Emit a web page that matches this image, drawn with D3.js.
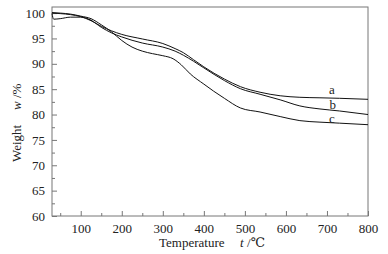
<!DOCTYPE html>
<html>
<head>
<meta charset="utf-8">
<script src="https://cdnjs.cloudflare.com/ajax/libs/d3/7.8.5/d3.min.js"></script>
<style>
  body { margin: 0; background: #fff; }
  text { font-family: "Liberation Serif", "DejaVu Serif", serif; fill: #222; }
</style>
</head>
<body>
<div id="chart"></div>
<script>
// TG curves, temperature (C) vs weight (%)
var temp_a   = [30, 50, 75, 100, 125, 150, 175, 200, 250, 300, 330, 350, 375, 400, 450, 489, 537, 586, 634, 683, 731, 800];
var weight_a = [100.0, 99.9, 99.7, 99.3, 98.5, 97.4, 96.5, 95.8, 94.9, 94.0, 93.0, 92.2, 90.8, 89.4, 87.0, 85.5, 84.4, 83.7, 83.4, 83.3, 83.2, 83.0];
var temp_b   = [30, 34, 50, 75, 100, 125, 150, 175, 200, 250, 300, 330, 350, 375, 400, 450, 489, 537, 586, 634, 683, 731, 800];
var weight_b = [99.9, 98.8, 98.9, 99.2, 99.2, 98.6, 97.2, 96.1, 95.3, 94.1, 93.3, 92.5, 91.7, 90.5, 89.2, 86.7, 85.1, 84.0, 82.9, 81.7, 81.1, 80.7, 80.0];
var temp_c   = [30, 50, 75, 100, 125, 150, 175, 200, 225, 250, 275, 300, 325, 345, 367, 400, 424, 450, 489, 537, 586, 634, 683, 731, 800];
var weight_c = [100.1, 100.0, 99.8, 99.4, 98.9, 97.7, 96.3, 94.6, 93.3, 92.5, 92.0, 91.6, 91.0, 89.8, 88.0, 86.0, 84.6, 83.2, 81.3, 80.5, 79.6, 78.8, 78.5, 78.3, 78.0];
var series_names = ["a", "b", "c"];
var x_ticks = [100, 200, 300, 400, 500, 600, 700, 800];
var y_ticks = [60, 65, 70, 75, 80, 85, 90, 95, 100];

var width  = 388;
var height = 254;
var margin = {left: 52, right: 20, top: 7, bottom: 38};
var serif  = "'Liberation Serif', 'DejaVu Serif', serif";

var x = d3.scaleLinear()
  .domain([30, 800])
  .range([margin.left, width - margin.right]);
var y = d3.scaleLinear()
  .domain([60, 101.2])
  .range([height - margin.bottom, margin.top]);

var svg = d3.select("#chart").append("svg")
  .attr("width", width)
  .attr("height", height)
  .attr("font-family", serif);

// frame
svg.append("rect")
  .attr("x", x(30))
  .attr("y", y(101.2))
  .attr("width", x(800) - x(30))
  .attr("height", y(60) - y(101.2))
  .attr("fill", "none")
  .attr("stroke", "#777")
  .attr("stroke-width", 1);

// minor ticks
var x_minor = d3.range(50, 800, 100);
var y_minor = d3.range(62.5, 100, 5);

svg.append("g")
  .attr("transform", "translate(0," + y(60) + ")")
  .call(d3.axisBottom(x).tickValues(x_ticks).tickSize(-5).tickPadding(8).tickFormat(d3.format("d")));
svg.append("g")
  .attr("transform", "translate(0," + y(60) + ")")
  .call(d3.axisBottom(x).tickValues(x_minor).tickSize(-3).tickFormat(""));

svg.append("g")
  .attr("transform", "translate(" + x(30) + ",0)")
  .call(d3.axisLeft(y).tickValues(y_ticks).tickSize(-5).tickPadding(7).tickFormat(d3.format("d")));
svg.append("g")
  .attr("transform", "translate(" + x(30) + ",0)")
  .call(d3.axisLeft(y).tickValues(y_minor).tickSize(-3).tickFormat(""));

svg.selectAll(".domain").remove();
svg.selectAll("g").attr("font-family", serif).attr("font-size", 13);
svg.selectAll(".tick line").attr("stroke", "#777");
svg.selectAll(".tick text").attr("fill", "#222");

// curves
var line = d3.line()
  .curve(d3.curveMonotoneX)
  .x(function (d) { return x(d[0]); })
  .y(function (d) { return y(d[1]); });

var curves = [
  d3.zip(temp_a, weight_a),
  d3.zip(temp_b, weight_b),
  d3.zip(temp_c, weight_c)
];

svg.append("g").selectAll("path")
  .data(curves)
  .enter().append("path")
  .attr("d", line)
  .attr("fill", "none")
  .attr("stroke", "#111")
  .attr("stroke-width", 1);

// curve labels
var label_pos = [[712, 84.1], [714, 81.1], [712, 78.3]];
svg.append("g").selectAll("text")
  .data(series_names)
  .enter().append("text")
  .attr("x", function (d, i) { return x(label_pos[i][0]); })
  .attr("y", function (d, i) { return y(label_pos[i][1]); })
  .attr("text-anchor", "middle")
  .attr("font-size", 13)
  .text(function (d) { return d; });

// axis titles
var xt = svg.append("text")
  .attr("x", 159)
  .attr("y", 247)
  .attr("font-size", 13);
xt.append("tspan").text("Temperature");
xt.append("tspan").attr("x", 240).style("font-style", "italic").text("t");
xt.append("tspan").text(" /\u2103");

var yt = svg.append("text")
  .attr("transform", "translate(21,162) rotate(-90)")
  .attr("font-size", 13);
yt.append("tspan").text("Weight");
yt.append("tspan").attr("x", 52).style("font-style", "italic").text("w");
yt.append("tspan").text(" /%");
</script>
</body>
</html>
